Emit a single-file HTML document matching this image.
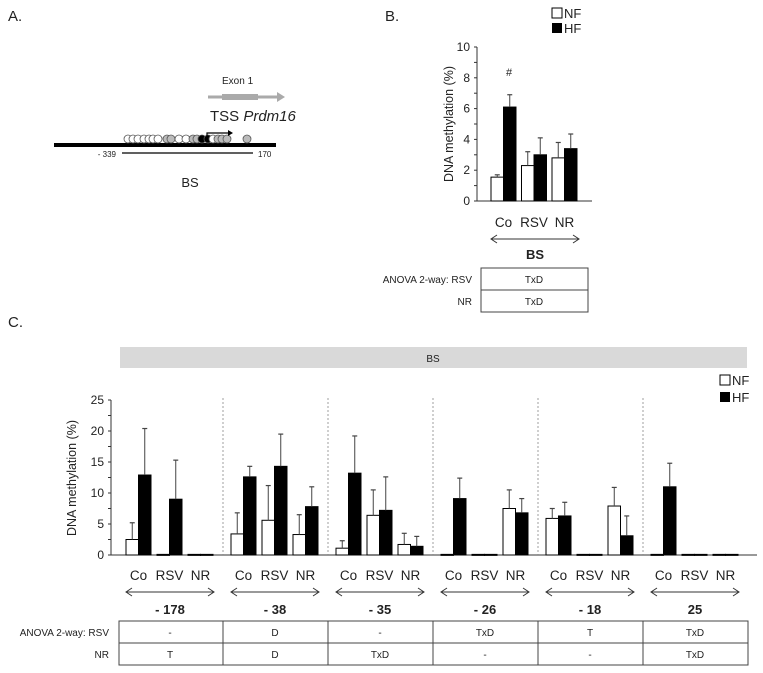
<!DOCTYPE html>
<html><head><meta charset="utf-8"><style>
html,body{margin:0;padding:0;background:#fff}
svg{display:block;font-family:"Liberation Sans",sans-serif;fill:#222}
</style></head><body>
<svg id="fig" width="763" height="673" viewBox="0 0 763 673">
<!-- Panel A -->
<g>
<text x="8" y="21" font-size="15">A.</text>
<text x="222" y="84" font-size="10">Exon 1</text>
<line x1="208" y1="97" x2="278" y2="97" stroke="#aaa" stroke-width="3"/>
<rect x="222" y="94" width="36" height="6" fill="#aaa"/>
<polygon points="277,92 285,97 277,102" fill="#aaa"/>
<text x="210" y="121" font-size="15">TSS <tspan font-style="italic">Prdm16</tspan></text>
<rect x="54" y="143" width="222" height="4" fill="#000"/>
<line x1="122" y1="153" x2="253" y2="153" stroke="#000" stroke-width="1.2"/>
<text x="116" y="157" font-size="8" text-anchor="end">- 339</text>
<text x="258" y="157" font-size="8">170</text>
<text x="190" y="187" font-size="13" text-anchor="middle">BS</text>
<g id="cpgs"></g>
<path d="M207 139 V133 H229" stroke="#000" stroke-width="1.2" fill="none"/>
<polygon points="228,130 233,133 228,136" fill="#000"/>
</g>
<!-- Panel B -->
<g id="pb">
<text x="385" y="21" font-size="15">B.</text>
<text x="453" y="124" font-size="12.5" text-anchor="middle" transform="rotate(-90 453 124)">DNA methylation (%)</text>
<text x="509" y="76" font-size="11" text-anchor="middle">#</text>
<rect x="552" y="8" width="10" height="10" fill="#fff" stroke="#000"/>
<text x="564" y="18" font-size="13">NF</text>
<rect x="552" y="23" width="10" height="10" fill="#000"/>
<text x="564" y="33" font-size="13">HF</text>
<line x1="491" y1="239" x2="579" y2="239" stroke="#333"/>
<path d="M497 235 L491 239 L497 243 M573 235 L579 239 L573 243" stroke="#333" fill="none"/>
<text x="535" y="259" font-size="13" font-weight="bold" text-anchor="middle">BS</text>
<rect x="481" y="268" width="107" height="44" fill="none" stroke="#444"/>
<line x1="481" y1="290" x2="588" y2="290" stroke="#444"/>
<text x="534" y="283" font-size="10" text-anchor="middle">TxD</text>
<text x="534" y="305" font-size="10" text-anchor="middle">TxD</text>
<text x="472" y="283" font-size="10" text-anchor="end">ANOVA 2-way: RSV</text>
<text x="472" y="305" font-size="10" text-anchor="end">NR</text>
</g>
<!-- Panel C -->
<g id="pc">
<text x="8" y="327" font-size="15">C.</text>
<rect x="120" y="347" width="627" height="21" fill="#d9d9d9"/>
<text x="433" y="362" font-size="10" text-anchor="middle">BS</text>
<text x="76" y="478" font-size="12.5" text-anchor="middle" transform="rotate(-90 76 478)">DNA methylation (%)</text>
<rect x="720" y="375" width="10" height="10" fill="#fff" stroke="#000"/>
<text x="732" y="385" font-size="13">NF</text>
<rect x="720" y="392" width="10" height="10" fill="#000"/>
<text x="732" y="402" font-size="13">HF</text>
<text x="109" y="636" font-size="10" text-anchor="end">ANOVA 2-way: RSV</text>
<text x="109" y="658" font-size="10" text-anchor="end">NR</text>
</g>
</svg>
<script>
const NS="http://www.w3.org/2000/svg";
// Panel B data
const bCats=["Co","RSV","NR"];
const bNF=[1.55,2.3,2.8];
const bNFerr=[0.15,0.9,1.0];
const bHF=[6.1,3.0,3.4];
const bHFerr=[0.8,1.1,0.95];
const bTicks=[0,2,4,6,8,10];
// Panel C data
const cPos=["- 178","- 38","- 35","- 26","- 18","25"];
const cCats=["Co","RSV","NR"];
const cNF=[[2.5,0.1,0.1],[3.4,5.6,3.3],[1.1,6.4,1.7],[0.1,0.1,7.5],[5.9,0.1,7.9],[0.1,0.1,0.1]];
const cNFerr=[[2.7,0,0],[3.4,5.6,3.2],[1.2,4.1,1.8],[0,0,3.0],[1.6,0,3.0],[0,0,0]];
const cHF=[[12.9,9.0,0.1],[12.6,14.3,7.8],[13.2,7.2,1.4],[9.1,0.1,6.8],[6.3,0.1,3.1],[11.0,0.1,0.1]];
const cHFerr=[[7.5,6.3,0],[1.7,5.2,3.2],[6.0,5.4,1.6],[3.3,0,2.3],[2.2,0,3.2],[3.8,0,0]];
const cRSV=["-","D","-","TxD","T","TxD"];
const cNR=["T","D","TxD","-","-","TxD"];
const cTicks=[0,5,10,15,20,25];
const cpgs=[128,133,138,144,149,153,158,167,171,179,186,193,197,202,208,213,218,222,227,247];
const cpgFill=["#fff","#fff","#fff","#fff","#fff","#fff","#fff","#bbb","#bbb","#fff","#fff","#bbb","#bbb","#000","#000","#fff","#bbb","#bbb","#bbb","#bbb"];

function el(tag,attrs,parent){const e=document.createElementNS(NS,tag);for(const k in attrs)e.setAttribute(k,attrs[k]);parent.appendChild(e);return e;}

const cg=document.getElementById('cpgs');
cpgs.forEach((x,i)=>{const c=el('circle',{cx:x,cy:139,r:4,fill:cpgFill[i],stroke:'#555','stroke-width':0.8},cg);

});

function bar(g,x,w,y0,yv,ytop,fill,name){
  const r=el('rect',{x:x,y:Math.min(yv,y0),width:w,height:Math.max(Math.abs(y0-yv),1),fill:fill,stroke:'#000','stroke-width':1},g);
  
  
  if(ytop<yv-0.5){
    const l=el('line',{x1:x+w/2,y1:yv,x2:x+w/2,y2:ytop,stroke:'#444','stroke-width':1},g);
    
    
    el('line',{x1:x+w/2-2.5,y1:ytop,x2:x+w/2+2.5,y2:ytop,stroke:'#444','stroke-width':1.2},g);
  }
}

// Panel B
const pb=document.getElementById('pb');
const bY=v=>201-v*15.4;
el('line',{x1:477,y1:bY(0),x2:477,y2:bY(10),stroke:'#333'},pb);
el('line',{x1:477,y1:bY(0),x2:592,y2:bY(0),stroke:'#333'},pb);
for(let v=0;v<=10;v++){el('line',{x1:474,y1:bY(v),x2:477,y2:bY(v),stroke:'#333'},pb);}
bTicks.forEach(t=>{const tx=el('text',{x:470,y:bY(t)+4,'font-size':12,'text-anchor':'end'},pb);tx.textContent=t;

});
const bX=i=>491+i*30.5;
bCats.forEach((c,i)=>{
  bar(pb,bX(i),12.5,bY(0),bY(bNF[i]),bY(bNF[i]+bNFerr[i]),'#fff','bar-nf-'+c.toLowerCase());
  bar(pb,bX(i)+12.5,12.5,bY(0),bY(bHF[i]),bY(bHF[i]+bHFerr[i]),'#000','bar-hf-'+c.toLowerCase());
  const t=el('text',{x:bX(i)+12.5,y:227,'font-size':13.5,'text-anchor':'middle'},pb);t.textContent=c;
  
  
});

// Panel C
const pc=document.getElementById('pc');
const cY=v=>555-v*6.2;
el('line',{x1:111,y1:cY(0),x2:111,y2:cY(25),stroke:'#333'},pc);
el('line',{x1:111,y1:cY(0),x2:757,y2:cY(0),stroke:'#333'},pc);
for(let v=0;v<=25;v+=2.5){el('line',{x1:108,y1:cY(v),x2:111,y2:cY(v),stroke:'#333'},pc);}
cTicks.forEach(t=>{const tx=el('text',{x:104,y:cY(t)+4,'font-size':12,'text-anchor':'end'},pc);tx.textContent=t;

});
const gX=g=>118+g*105;
el('rect',{x:119,y:621,width:629,height:44,fill:'none',stroke:'#444'},pc);
el('line',{x1:119,y1:643,x2:748,y2:643,stroke:'#444'},pc);
cPos.forEach((p,g)=>{
  const x0=gX(g);
  if(g>0){const d=el('line',{x1:x0,y1:398,x2:x0,y2:555,stroke:'#888','stroke-dasharray':'2,2','stroke-width':0.8},pc);
    
    
    el('line',{x1:x0,y1:621,x2:x0,y2:665,stroke:'#444'},pc);}
  cCats.forEach((c,i)=>{
    const bx=x0+8+i*31;
    bar(pc,bx,12.5,cY(0),cY(cNF[g][i]),cY(cNF[g][i]+cNFerr[g][i]),'#fff','bar-nf');
    bar(pc,bx+12.5,12.5,cY(0),cY(cHF[g][i]),cY(cHF[g][i]+cHFerr[g][i]),'#000','bar-hf');
    const t=el('text',{x:bx+12.5,y:580,'font-size':13.5,'text-anchor':'middle'},pc);t.textContent=c;
    
    
  });
  const ax1=x0+8,ax2=x0+96;
  el('line',{x1:ax1,y1:592,x2:ax2,y2:592,stroke:'#333'},pc);
  el('path',{d:`M${ax1+6} 588 L${ax1} 592 L${ax1+6} 596 M${ax2-6} 588 L${ax2} 592 L${ax2-6} 596`,stroke:'#333',fill:'none'},pc);
  const gl=el('text',{x:x0+52,y:614,'font-size':13,'font-weight':'bold','text-anchor':'middle'},pc);gl.textContent=p;
  
  
  const a=el('text',{x:x0+52,y:636,'font-size':10,'text-anchor':'middle'},pc);a.textContent=cRSV[g];
  
  
  const b=el('text',{x:x0+52,y:658,'font-size':10,'text-anchor':'middle'},pc);b.textContent=cNR[g];
  
  
});
</script>
</body></html>
